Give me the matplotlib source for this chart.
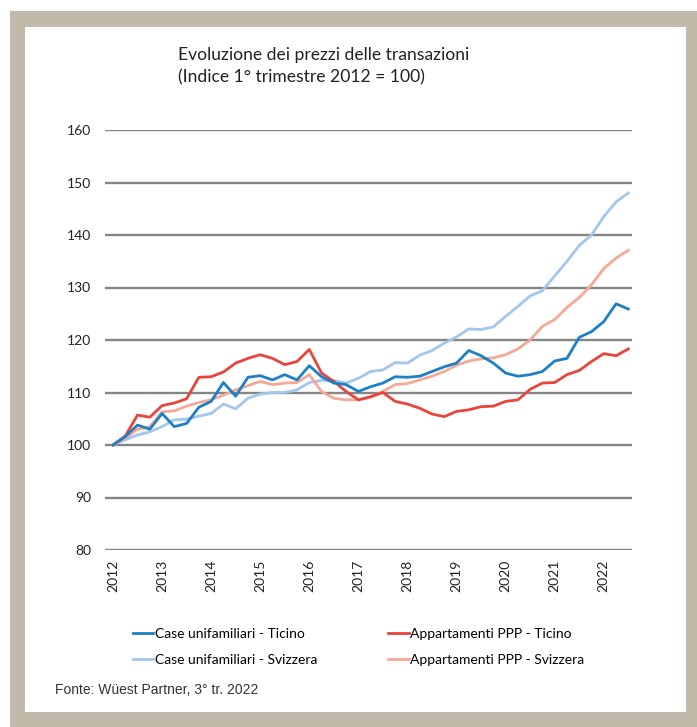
import numpy as np
import matplotlib
matplotlib.use("Agg")
import matplotlib.pyplot as plt
from matplotlib.patches import Rectangle

# Quarterly index values, 2012 Q1 .. 2022 Q3 (1st quarter 2012 = 100)
years = ["2012", "2013", "2014", "2015", "2016", "2017", "2018", "2019", "2020", "2021", "2022"]

case_ticino = [100.0, 101.6, 103.8, 103.0, 106.0, 103.5, 104.1, 107.2, 108.3, 111.9,
               109.3, 112.9, 113.2, 112.4, 113.4, 112.4, 115.1, 113.0, 111.8, 111.5,
               110.2, 111.1, 111.8, 113.0, 112.9, 113.1, 114.0, 114.9, 115.6, 118.0,
               117.0, 115.6, 113.7, 113.1, 113.4, 114.0, 116.0, 116.5, 120.5, 121.6,
               123.5, 126.9, 125.9]

app_ticino = [100.0, 101.7, 105.7, 105.3, 107.5, 108.0, 108.8, 112.9, 113.0, 113.9,
              115.6, 116.5, 117.2, 116.5, 115.3, 115.9, 118.2, 113.7, 112.1, 110.2,
              108.6, 109.2, 110.0, 108.3, 107.8, 107.0, 105.9, 105.4, 106.4, 106.7,
              107.3, 107.4, 108.3, 108.6, 110.6, 111.8, 111.9, 113.4, 114.2, 115.9,
              117.4, 117.0, 118.3]

case_svizzera = [100.0, 101.0, 101.9, 102.5, 103.5, 104.8, 104.9, 105.5, 106.0, 107.8,
                 106.9, 108.9, 109.7, 110.0, 110.0, 110.5, 111.9, 112.3, 112.3, 111.8,
                 112.7, 114.0, 114.3, 115.7, 115.6, 117.1, 118.0, 119.4, 120.6, 122.1,
                 122.0, 122.5, 124.5, 126.4, 128.4, 129.4, 132.2, 135.0, 138.0, 140.0,
                 143.5, 146.3, 148.0]

app_svizzera = [100.0, 101.3, 103.0, 103.5, 106.3, 106.5, 107.4, 108.1, 108.6, 109.5,
                110.5, 111.3, 112.1, 111.5, 111.8, 111.9, 113.4, 110.2, 108.9, 108.6,
                108.6, 109.1, 110.2, 111.5, 111.7, 112.4, 113.1, 114.0, 115.2, 116.0,
                116.4, 116.6, 117.2, 118.3, 120.0, 122.6, 123.9, 126.2, 128.1, 130.5,
                133.6, 135.6, 137.1]

W, H = 697, 727
fig = plt.figure(figsize=(W / 100, H / 100), dpi=100)

# beige frame with white panel
fig.patches.append(Rectangle((10 / W, 0), 1 - 10 / W, 1 - 11 / H, transform=fig.transFigure,
                             facecolor="#c1b9a9", edgecolor="none", zorder=-2))
fig.patches.append(Rectangle((25 / W, 15 / H), 661 / W, 685 / H, transform=fig.transFigure,
                             facecolor="white", edgecolor="none", zorder=-1))

ax = fig.add_axes([105 / W, 1 - 550 / H, 527 / W, 420 / H])
ax.set_facecolor("none")

x = np.arange(len(case_ticino))
lw = 2.0
l1, = ax.plot(x, case_ticino, color="#1c80c6", lw=lw, label="Case unifamiliari - Ticino", zorder=4)
l3, = ax.plot(x, app_ticino, color="#e8443a", lw=lw, label="Appartamenti PPP - Ticino", zorder=3)
l2, = ax.plot(x, case_svizzera, color="#a3c6ec", lw=lw, label="Case unifamiliari - Svizzera", zorder=2)
l4, = ax.plot(x, app_svizzera, color="#f5a896", lw=lw, label="Appartamenti PPP - Svizzera", zorder=2)

ax.set_xlim(-0.65, 42.3)
ax.set_ylim(80, 160)
ax.set_yticks(range(80, 161, 10))
ax.yaxis.grid(True, color="#858585", lw=1.7)
ax.set_axisbelow(True)
for s in ax.spines.values():
    s.set_visible(False)

ax.set_xticks(range(0, 41, 4))
ax.set_xticklabels(years, rotation=90, fontfamily="Lato", fontsize=10, color="#222222")
for lab in ax.get_yticklabels():
    lab.set_fontfamily("Lato")
    lab.set_fontsize(10)
    lab.set_color("#222222")
ax.tick_params(axis="y", length=0, pad=10)
ax.tick_params(axis="x", length=0, pad=7)

fig.text(178 / W, 1 - 66 / H, "Evoluzione dei prezzi delle transazioni\n(Indice 1° trimestre 2012 = 100)",
         fontfamily="Lato", fontsize=12.6, color="#222222", va="center", ha="left", linespacing=1.45)

fig.legend(handles=[l1, l2, l3, l4], loc="center left", bbox_to_anchor=(120 / W, 1 - 647 / H),
           ncol=2, frameon=False, handlelength=1.5, handletextpad=0.1, columnspacing=5.1,
           labelspacing=1.05, prop={"family": "Lato", "size": 10})

fig.text(55 / W, 1 - 690 / H, "Fonte: Wüest Partner, 3° tr. 2022", fontfamily="Liberation Sans",
         fontsize=10, color="#333333", va="center", ha="left")

fig.savefig("out.png", dpi=100)
